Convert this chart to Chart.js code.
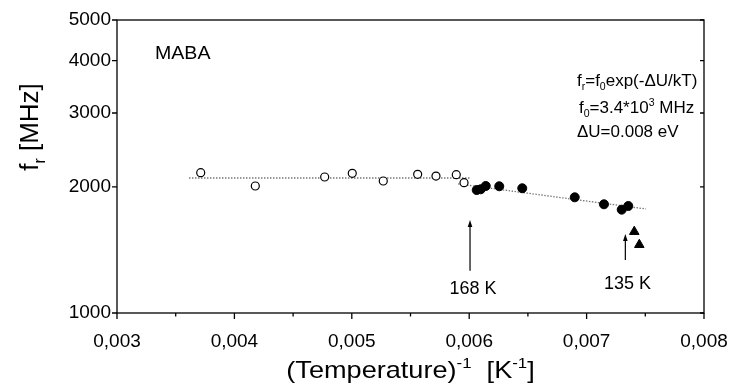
<!DOCTYPE html>
<html><head><meta charset="utf-8">
<script src="https://cdn.jsdelivr.net/npm/chart.js@4.4.0/dist/chart.umd.min.js"></script>
<style>html,body{margin:0;padding:0;background:#fff}canvas{display:block}</style>
</head><body>
<canvas id="c" width="735" height="392"></canvas>
<script>
// ---- tick values ----
const xTickValues = [0.003, 0.004, 0.005, 0.006, 0.007, 0.008];
const xMinorValues = [0.0035, 0.0045, 0.0055, 0.0065, 0.0075];
const yTickValues = [1000, 2000, 3000, 4000, 5000];

// ---- series ----
const openX = [0.003713, 0.004178, 0.004769, 0.005004, 0.005268, 0.005561, 0.005717, 0.005890, 0.005956];
const openY = [2161, 2009, 2111, 2154, 2065, 2142, 2122, 2138, 2046];
const filledX = [0.006064, 0.006098, 0.006141, 0.006256, 0.006452, 0.006899, 0.007148, 0.007299, 0.007355];
const filledY = [1965, 1973, 2009, 2006, 1984, 1888, 1817, 1764, 1800];
const triX = [0.007406, 0.007449];
const triY = [1563, 1455];
const flatFitX = [0.003613, 0.006007];
const flatFitY = [2099, 2099];
const slopeFitX = [0.005905, 0.007506];
const slopeFitY = [2032, 1771];

// ---- annotations (data coordinates) ----
const arrowX = [0.006007, 0.00733];
const arrowTopY = [1667, 1543];
const arrowBottomY = [1262, 1338];
const arrowLabels = ['168 K', '135 K'];
const arrowLabelX = [0.006032, 0.007348];
const arrowLabelY = [1110, 1141];
const sampleName = 'MABA';
const sampleX = 0.0033237, sampleY = 4030;
const formulaX = 0.006918;
const formulaY = [3479, 3004, 2626];

const FONT = '"Liberation Sans", Arial, sans-serif';
const pts = (xs, ys) => xs.map((x, i) => ({x, y: ys[i]}));

function drawRuns(ctx, runs, x, y, size, align, sx) {
  ctx.save();
  const parts = runs.map(([t, k]) => {
    const fs = k ? size * 0.62 : size;
    ctx.font = fs + 'px ' + FONT;
    return {t, k, fs, w: ctx.measureText(t).width};
  });
  const total = parts.reduce((a, p) => a + p.w, 0);
  ctx.translate(x, y);
  ctx.scale(sx, 1);
  let cx = align === 'center' ? -total / 2 : align === 'right' ? -total : 0;
  ctx.textBaseline = 'alphabetic';
  ctx.textAlign = 'left';
  ctx.fillStyle = '#000';
  for (const p of parts) {
    ctx.font = p.fs + 'px ' + FONT;
    const dy = p.k === 1 ? size * 0.25 : p.k === 2 ? -size * 0.42 : 0;
    ctx.fillText(p.t, cx, dy);
    cx += p.w;
  }
  ctx.restore();
}

const decor = {
  id: 'decor',
  afterDatasetsDraw(chart) {
    const ctx = chart.ctx, a = chart.chartArea;
    const xs = chart.scales.x, ys = chart.scales.y;
    ctx.save();
    ctx.strokeStyle = '#000';
    ctx.lineWidth = 1.3;
    ctx.strokeRect(a.left, a.top, a.right - a.left, a.bottom - a.top);
    ctx.beginPath();
    xTickValues.forEach(v => { const p = xs.getPixelForValue(v); ctx.moveTo(p, a.bottom); ctx.lineTo(p, a.bottom + 6); });
    xMinorValues.forEach(v => { const p = xs.getPixelForValue(v); ctx.moveTo(p, a.bottom); ctx.lineTo(p, a.bottom + 3.5); });
    yTickValues.forEach(v => {
      const p = ys.getPixelForValue(v);
      ctx.moveTo(a.left - 5, p); ctx.lineTo(a.left, p);
      ctx.moveTo(a.right - 4, p); ctx.lineTo(a.right, p);
    });
    ctx.stroke();
    // arrows
    ctx.lineWidth = 1.2;
    ctx.fillStyle = '#000';
    arrowX.forEach((v, i) => {
      const px = xs.getPixelForValue(v);
      const t = ys.getPixelForValue(arrowTopY[i]);
      const b = ys.getPixelForValue(arrowBottomY[i]);
      ctx.beginPath(); ctx.moveTo(px, b); ctx.lineTo(px, t + 5); ctx.stroke();
      ctx.beginPath(); ctx.moveTo(px, t); ctx.lineTo(px - 2.3, t + 7); ctx.lineTo(px + 2.3, t + 7); ctx.closePath(); ctx.fill();
      drawRuns(ctx, [[arrowLabels[i], 0]], xs.getPixelForValue(arrowLabelX[i]), ys.getPixelForValue(arrowLabelY[i]), 18, 'center', 1);
    });
    // texts
    drawRuns(ctx, [[sampleName, 0]], xs.getPixelForValue(sampleX), ys.getPixelForValue(sampleY), 19, 'left', 1.03);
    const fx = xs.getPixelForValue(formulaX);
    drawRuns(ctx, [['f', 0], ['r', 1], ['=f', 0], ['0', 1], ['exp(-\u0394U/kT)', 0]], fx, ys.getPixelForValue(formulaY[0]), 17, 'left', 1);
    drawRuns(ctx, [['f', 0], ['0', 1], ['=3.4*10', 0], ['3', 2], [' MHz', 0]], fx + 2, ys.getPixelForValue(formulaY[1]), 17, 'left', 1);
    drawRuns(ctx, [['\u0394U=0.008 eV', 0]], fx, ys.getPixelForValue(formulaY[2]), 17, 'left', 1);
    // axis titles
    drawRuns(ctx, [['(Temperature)', 0], ['-1', 2], ['  [K', 0], ['-1', 2], [']', 0]], (a.left + a.right) / 2, 377.7, 24, 'center', 1.13);
    ctx.save();
    ctx.translate(38, 127);
    ctx.rotate(-Math.PI / 2);
    drawRuns(ctx, [['f', 0], ['r', 1], [' [MHz]', 0]], 0, 0, 26, 'center', 1);
    ctx.restore();
    ctx.restore();
  }
};

new Chart(document.getElementById('c'), {
  type: 'scatter',
  data: {
    datasets: [
      {data: pts(openX, openY), pointStyle: 'circle', pointRadius: 4, borderWidth: 1.2, borderColor: '#000', backgroundColor: '#fff', order: 1},
      {data: pts(filledX, filledY), pointStyle: 'circle', pointRadius: 4.5, borderWidth: 1, borderColor: '#000', backgroundColor: '#000', order: 1},
      {data: pts(triX, triY), pointStyle: 'triangle', pointRadius: 5.5, borderWidth: 1, borderColor: '#000', backgroundColor: '#000', order: 1},
      {data: pts(flatFitX, flatFitY), showLine: true, pointRadius: 0, borderColor: '#777', borderWidth: 1.3, borderDash: [1.5, 1.5], order: 2},
      {data: pts(slopeFitX, slopeFitY), showLine: true, pointRadius: 0, borderColor: '#777', borderWidth: 1.3, borderDash: [1.5, 1.5], order: 2}
    ]
  },
  options: {
    responsive: false,
    devicePixelRatio: 1,
    animation: false,
    layout: {padding: {top: 20, right: 31, left: 0, bottom: 0}},
    plugins: {legend: {display: false}, tooltip: {enabled: false}},
    scales: {
      x: {
        type: 'linear', min: 0.003, max: 0.008, position: 'bottom',
        grid: {display: false, drawTicks: false}, border: {display: false},
        afterBuildTicks: s => { s.ticks = xTickValues.map(v => ({value: v})); },
        afterFit: s => { s.height = 79; s.paddingLeft = 0; s.paddingRight = 0; },
        ticks: {color: '#000', font: {family: FONT, size: 19}, padding: 17, maxRotation: 0, autoSkip: false,
          callback: v => v.toFixed(3).replace('.', ',')}
      },
      y: {
        type: 'logarithmic', min: 1000, max: 5000, position: 'left',
        grid: {display: false, drawTicks: false}, border: {display: false},
        afterBuildTicks: s => { s.ticks = yTickValues.map(v => ({value: v})); },
        afterFit: s => { s.width = 117; s.paddingTop = 0; s.paddingBottom = 0; },
        ticks: {color: '#000', font: {family: FONT, size: 19}, padding: 6, autoSkip: false,
          callback: v => String(v)}
      }
    }
  },
  plugins: [decor]
});
</script>
</body></html>
